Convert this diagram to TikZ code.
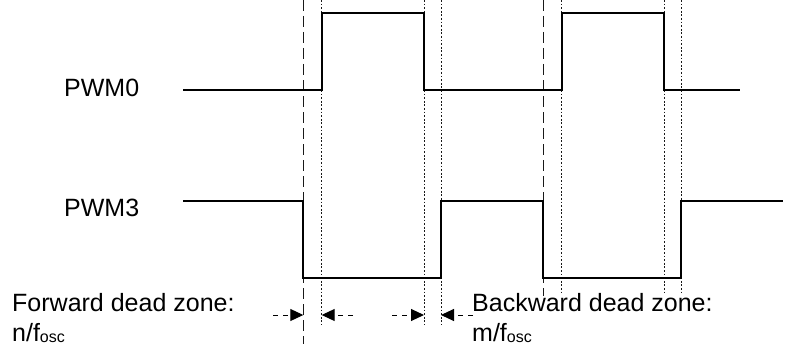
\documentclass[tikz,border=0pt]{standalone}
\usepackage{fontspec}
\setmainfont{Liberation Sans}
\usetikzlibrary{arrows.meta}
\begin{document}
\begin{tikzpicture}[x=1pt,y=-1pt,
  sig/.style={line width=2.2pt, line join=miter},
  dashv/.style={line width=1pt, dash pattern=on 11pt off 5pt, black!90},
  dotv/.style={line width=1pt, dash pattern=on 1.8pt off 1.8pt, black!90},
  dz/.style={line width=1pt, dash pattern=on 5pt off 5pt, -{Triangle[length=13pt,width=12pt]}},
  lbl/.style={inner sep=0pt, anchor=base west, font=\fontsize{25}{30}\selectfont}]
\useasboundingbox (0,0) rectangle (800,345);
% vertical guide coordinates
\coordinate (d1t) at (303.3,0);   \coordinate (d1b) at (303.3,344);
\coordinate (e1t) at (321.7,0);   \coordinate (e1b) at (321.7,325);
\coordinate (e2t) at (424,0);     \coordinate (e2b) at (424,325);
\coordinate (e3t) at (441,0);     \coordinate (e3b) at (441,325);
\coordinate (d2t) at (543.3,0);   \coordinate (d2b) at (543.3,296);
\coordinate (e4t) at (561.7,0);   \coordinate (e4b) at (561.7,294);
\coordinate (e5t) at (664,0);     \coordinate (e5b) at (664,294);
\coordinate (e6t) at (681,0);     \coordinate (e6b) at (681,294);
\draw[dashv] (d1t) -- (d1b);
\draw[dashv] (d2t) -- (d2b);
\draw[dotv] (e1t) -- (e1b);
\draw[dotv] (e2t) -- (e2b);
\draw[dotv] (e3t) -- (e3b);
\draw[dotv] (e4t) -- (e4b);
\draw[dotv] (e5t) -- (e5b);
\draw[dotv] (e6t) -- (e6b);
% waveforms
\draw[sig] (183,90) -- (321.7,90) -- (321.7,12.7) -- (424,12.7) -- (424,90)
  -- (561.7,90) -- (561.7,12.7) -- (664,12.7) -- (664,90) -- (740,90);
\draw[sig] (183,200.7) -- (303.3,200.7) -- (303.3,277.7) -- (441,277.7) -- (441,200.7)
  -- (543.3,200.7) -- (543.3,277.7) -- (681,277.7) -- (681,200.7) -- (783,200.7);
% labels
\node[lbl] (pwm0) at (64,96) {PWM0};
\node[lbl] (pwm3) at (64,216) {PWM3};
\node[lbl] (fwd) at (12,311) {Forward dead zone:};
\node[lbl] (nf) at (12,341) {n/f\raisebox{-1pt}{\fontsize{16}{16}\selectfont osc}};
\node[lbl] (bwd) at (472,311) {Backward dead zone:};
\node[lbl] (mf) at (472,341) {m/f\raisebox{-1pt}{\fontsize{16}{16}\selectfont osc}};
% dead-zone arrows
\coordinate (a1s) at (273,315); \coordinate (a1e) at (303.3,315);
\coordinate (a2s) at (353,315); \coordinate (a2e) at (321.7,315);
\coordinate (a3s) at (392,315); \coordinate (a3e) at (424,315);
\coordinate (a4s) at (473,315); \coordinate (a4e) at (441,315);
\draw[dz] (a1s) -- (a1e);
\draw[dz] (a2s) -- (a2e);
\draw[dz] (a3s) -- (a3e);
\draw[dz] (a4s) -- (a4e);
\end{tikzpicture}
\end{document}
